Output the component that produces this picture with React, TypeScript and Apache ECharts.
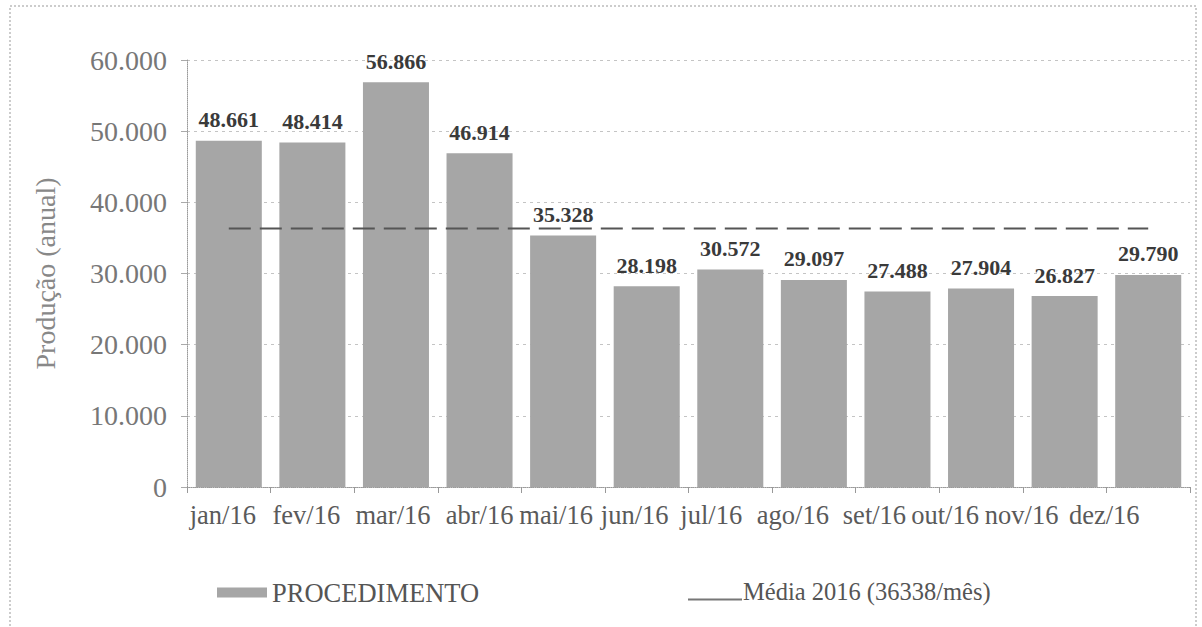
import React, { useEffect, useRef } from "react";
import * as echarts from "echarts";

const categories = ["jan/16", "fev/16", "mar/16", "abr/16", "mai/16", "jun/16", "jul/16", "ago/16", "set/16", "out/16", "nov/16", "dez/16"];
const procedimento = [48661, 48414, 56866, 46914, 35328, 28198, 30572, 29097, 27488, 27904, 26827, 29790];
const mediaValue = 36338;
const media = categories.map(() => mediaValue);
const barName = "PROCEDIMENTO";
const lineName = "Média 2016 (36338/mês)";
const axisName = "Produção (anual)";

// horizontal drift of the scanned tick labels (style only, px)
const labelDrift = [-6, -6, -3, 0, -7, -12, -19, -21, -23, -36, -43, -44];

const FONT = "Liberation Serif";

function fmt(v: number): string {
  return String(Math.round(v)).replace(/\B(?=(\d{3})+(?!\d))/g, ".");
}

const richStyles: Record<string, any> = {};
labelDrift.forEach((d, i) => {
  richStyles["s" + i] = {
    fontFamily: FONT,
    fontSize: 26.5,
    color: "#5a5a5a",
    padding: d < 0 ? [0, -2 * d, 0, 0] : [0, 0, 0, 2 * d],
  };
});

export default function App() {
  const ref = useRef<HTMLDivElement>(null);
  useEffect(() => {
    if (!ref.current) return;
    const chart = echarts.init(ref.current, null, { renderer: "svg" });
    chart.setOption({
      animation: false,
      backgroundColor: "#ffffff",
      textStyle: { fontFamily: FONT },
      grid: { left: 187, right: 12, top: 60, bottom: 140, containLabel: false },
      graphic: [
        {
          type: "rect",
          shape: { x: 10, y: 6, width: 1186, height: 640 },
          style: { fill: "none", stroke: "#999", lineWidth: 1, lineDash: [2, 2] },
          silent: true,
        },
      ],
      legend: [
        {
          left: 212,
          top: 574,
          data: [barName],
          itemWidth: 50,
          itemHeight: 10,
          itemGap: 6,
          icon: "rect",
          textStyle: { fontFamily: FONT, fontSize: 26.5, color: "#555" },
        },
        {
          left: 683,
          top: 574,
          data: [lineName],
          itemWidth: 54,
          itemHeight: 18,
          icon: "path://M0,0 L0.01,0 M0,16 L54,16 L54,18 L0,18 Z",
          textStyle: { fontFamily: FONT, fontSize: 24.5, color: "#555", padding: [0, 0, 0, -4] },
        },
      ],
      xAxis: {
        type: "category",
        data: categories,
        axisLine: { show: true, lineStyle: { color: "#999", type: "dotted", width: 1 } },
        axisTick: { show: true, length: 6, lineStyle: { color: "#999" } },
        axisLabel: {
          fontFamily: FONT,
          fontSize: 26.5,
          color: "#5a5a5a",
          margin: 14,
          interval: 0,
          formatter: (v: string, i: number) => `{s${i}|${v}}`,
          rich: richStyles,
        },
      },
      yAxis: {
        type: "value",
        min: 0,
        max: 60000,
        interval: 10000,
        name: axisName,
        nameLocation: "middle",
        nameRotate: 90,
        nameGap: 128,
        nameTextStyle: { fontFamily: FONT, fontSize: 28, color: "#888" },
        axisLine: { show: true, lineStyle: { color: "#999", type: "dotted", width: 1 } },
        axisTick: { show: true, length: 6, lineStyle: { color: "#aaa" } },
        axisLabel: { fontFamily: FONT, fontSize: 28, color: "#777", margin: 20, formatter: (v: number) => fmt(v) },
        splitLine: { show: true, lineStyle: { color: "#c4c4c4", type: [3, 4], width: 1 } },
      },
      series: [
        {
          name: barName,
          type: "bar",
          data: procedimento,
          barCategoryGap: "21%",
          itemStyle: { color: "#a6a6a6" },
          label: {
            show: true,
            position: "top",
            distance: 10,
            fontFamily: FONT,
            fontSize: 22,
            fontWeight: "bold",
            color: "#3a3a3a",
            formatter: (p: any) => fmt(p.value),
          },
          z: 2,
        },
        {
          name: lineName,
          type: "line",
          data: media,
          symbol: "none",
          lineStyle: { color: "#555", width: 2, type: [22, 9] },
          itemStyle: { color: "#777" },
          z: 3,
        },
      ],
    });
    return () => chart.dispose();
  }, []);
  return <div ref={ref} style={{ position: "fixed", left: 0, top: 0, width: 1202, height: 627 }} />;
}
